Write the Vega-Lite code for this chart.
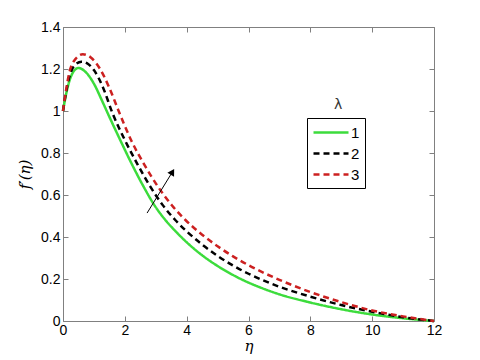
{
  "$schema": "https://vega.github.io/schema/vega-lite/v6.json",
  "width": 371,
  "height": 294,
  "autosize": {"type": "none"},
  "padding": {"left": 63, "top": 27, "right": 46, "bottom": 39},
  "background": "white",
  "config": {
    "view": {"stroke": "#808080", "strokeWidth": 1},
    "font": "Liberation Sans",
    "axis": {
      "domainColor": "#808080",
      "tickColor": "#808080",
      "labelColor": "black",
      "labelFont": "Liberation Sans",
      "labelFontSize": 14,
      "labelFlush": false,
      "grid": false,
      "titleFont": "DejaVu Serif",
      "titleFontStyle": "italic",
      "titleFontWeight": "normal",
      "titleFontSize": 15,
      "titleColor": "black"
    }
  },
  "datasets": {
    "curves": [
      {"eta": 0, "f": 1.0, "lam": "1"},
      {"eta": 0.1, "f": 1.08, "lam": "1"},
      {"eta": 0.2, "f": 1.14, "lam": "1"},
      {"eta": 0.3, "f": 1.178, "lam": "1"},
      {"eta": 0.4, "f": 1.198, "lam": "1"},
      {"eta": 0.5, "f": 1.205, "lam": "1"},
      {"eta": 0.7, "f": 1.19, "lam": "1"},
      {"eta": 1.0, "f": 1.13, "lam": "1"},
      {"eta": 1.25, "f": 1.053, "lam": "1"},
      {"eta": 1.5, "f": 0.972, "lam": "1"},
      {"eta": 1.85, "f": 0.862, "lam": "1"},
      {"eta": 2.2, "f": 0.755, "lam": "1"},
      {"eta": 2.58, "f": 0.647, "lam": "1"},
      {"eta": 2.95, "f": 0.553, "lam": "1"},
      {"eta": 3.31, "f": 0.481, "lam": "1"},
      {"eta": 3.65, "f": 0.426, "lam": "1"},
      {"eta": 4.0, "f": 0.375, "lam": "1"},
      {"eta": 4.5, "f": 0.313, "lam": "1"},
      {"eta": 5.0, "f": 0.262, "lam": "1"},
      {"eta": 5.5, "f": 0.219, "lam": "1"},
      {"eta": 6.0, "f": 0.183, "lam": "1"},
      {"eta": 6.5, "f": 0.153, "lam": "1"},
      {"eta": 7.0, "f": 0.127, "lam": "1"},
      {"eta": 8.0, "f": 0.088, "lam": "1"},
      {"eta": 9.0, "f": 0.056, "lam": "1"},
      {"eta": 10.0, "f": 0.031, "lam": "1"},
      {"eta": 11.0, "f": 0.013, "lam": "1"},
      {"eta": 12.0, "f": 0.0, "lam": "1"},
      {"eta": 0, "f": 1.0, "lam": "2"},
      {"eta": 0.1, "f": 1.09, "lam": "2"},
      {"eta": 0.2, "f": 1.16, "lam": "2"},
      {"eta": 0.35, "f": 1.213, "lam": "2"},
      {"eta": 0.6, "f": 1.235, "lam": "2"},
      {"eta": 0.8, "f": 1.225, "lam": "2"},
      {"eta": 1.0, "f": 1.195, "lam": "2"},
      {"eta": 1.3, "f": 1.11, "lam": "2"},
      {"eta": 1.6, "f": 0.99, "lam": "2"},
      {"eta": 2.0, "f": 0.862, "lam": "2"},
      {"eta": 2.41, "f": 0.746, "lam": "2"},
      {"eta": 2.815, "f": 0.642, "lam": "2"},
      {"eta": 3.22, "f": 0.553, "lam": "2"},
      {"eta": 3.63, "f": 0.481, "lam": "2"},
      {"eta": 4.0, "f": 0.427, "lam": "2"},
      {"eta": 4.5, "f": 0.364, "lam": "2"},
      {"eta": 5.0, "f": 0.31, "lam": "2"},
      {"eta": 5.5, "f": 0.264, "lam": "2"},
      {"eta": 6.0, "f": 0.225, "lam": "2"},
      {"eta": 6.5, "f": 0.192, "lam": "2"},
      {"eta": 7.0, "f": 0.163, "lam": "2"},
      {"eta": 8.0, "f": 0.116, "lam": "2"},
      {"eta": 9.0, "f": 0.076, "lam": "2"},
      {"eta": 10.0, "f": 0.044, "lam": "2"},
      {"eta": 11.0, "f": 0.018, "lam": "2"},
      {"eta": 12.0, "f": 0.0, "lam": "2"},
      {"eta": 0, "f": 1.0, "lam": "3"},
      {"eta": 0.1, "f": 1.1, "lam": "3"},
      {"eta": 0.2, "f": 1.18, "lam": "3"},
      {"eta": 0.4, "f": 1.247, "lam": "3"},
      {"eta": 0.64, "f": 1.27, "lam": "3"},
      {"eta": 0.9, "f": 1.255, "lam": "3"},
      {"eta": 1.2, "f": 1.2, "lam": "3"},
      {"eta": 1.5, "f": 1.11, "lam": "3"},
      {"eta": 1.8, "f": 1.0, "lam": "3"},
      {"eta": 2.2, "f": 0.862, "lam": "3"},
      {"eta": 2.64, "f": 0.742, "lam": "3"},
      {"eta": 3.08, "f": 0.638, "lam": "3"},
      {"eta": 3.52, "f": 0.551, "lam": "3"},
      {"eta": 3.96, "f": 0.481, "lam": "3"},
      {"eta": 4.5, "f": 0.411, "lam": "3"},
      {"eta": 5.0, "f": 0.356, "lam": "3"},
      {"eta": 5.5, "f": 0.308, "lam": "3"},
      {"eta": 6.0, "f": 0.266, "lam": "3"},
      {"eta": 6.5, "f": 0.229, "lam": "3"},
      {"eta": 7.0, "f": 0.196, "lam": "3"},
      {"eta": 8.0, "f": 0.138, "lam": "3"},
      {"eta": 9.0, "f": 0.09, "lam": "3"},
      {"eta": 10.0, "f": 0.05, "lam": "3"},
      {"eta": 11.0, "f": 0.022, "lam": "3"},
      {"eta": 12.0, "f": 0.0, "lam": "3"}
    ],
    "arrow": [{"x1": 2.72, "y1": 0.514, "x2": 3.54, "y2": 0.71}],
    "note": [{"x": 8.9, "y": 1.03, "t": "λ"}]
  },
  "layer": [
    {
      "data": {"name": "curves"},
      "mark": {"type": "line", "strokeWidth": 2.5, "interpolate": "monotone"},
      "encoding": {
        "x": {"field": "eta", "type": "quantitative", "scale": {"domain": [0, 12], "nice": false},
          "axis": {"values": [0, 2, 4, 6, 8, 10, 12], "tickSize": -5, "labelPadding": 7, "title": "η", "titlePadding": 1, "domain": false}},
        "y": {"field": "f", "type": "quantitative", "scale": {"domain": [0, 1.4], "nice": false, "zero": false},
          "axis": {"values": [0, 0.2, 0.4, 0.6, 0.8, 1, 1.2, 1.4], "tickSize": -5, "labelPadding": 8, "title": "f′(η)", "titlePadding": 8, "domain": false, "labelExpr": "datum.value == 0 ? '0' : datum.value == 1 ? '1' : format(datum.value, '.1f')"}},
        "color": {"field": "lam", "type": "nominal",
          "scale": {"domain": ["1", "2", "3"], "range": ["#3cdc3c", "#000000", "#cc2020"]},
          "legend": {"title": null, "orient": "none", "legendX": 244, "legendY": 91, "strokeColor": "#000000", "padding": 5, "fillColor": "white",
            "symbolType": "M-1,0H3.375", "symbolSize": 256, "symbolStrokeWidth": 2.5, "labelFontSize": 15, "labelFont": "Liberation Sans", "rowPadding": 3, "labelOffset": 20}},
        "strokeDash": {"field": "lam", "type": "nominal",
          "scale": {"domain": ["1", "2", "3"], "range": [[1, 0], [6, 4], [6, 4]]},
          "legend": null}
      }
    },
    {
      "data": {"name": "arrow"},
      "mark": {"type": "rule", "color": "black", "strokeWidth": 1},
      "encoding": {
        "x": {"field": "x1", "type": "quantitative", "axis": {"orient": "top", "values": [0, 2, 4, 6, 8, 10, 12], "tickSize": -5, "labels": false, "title": null, "domain": false}},
        "y": {"field": "y1", "type": "quantitative", "axis": {"orient": "right", "values": [0, 0.2, 0.4, 0.6, 0.8, 1, 1.2, 1.4], "tickSize": -5, "labels": false, "title": null, "domain": false}},
        "x2": {"field": "x2"},
        "y2": {"field": "y2"}
      }
    },
    {
      "data": {"name": "arrow"},
      "mark": {"type": "point", "shape": "triangle-up", "filled": true, "color": "black", "size": 60, "angle": 31, "opacity": 1},
      "encoding": {
        "x": {"field": "x2", "type": "quantitative", "axis": null},
        "y": {"field": "y2", "type": "quantitative", "axis": null}
      }
    },
    {
      "data": {"name": "note"},
      "mark": {"type": "text", "fontSize": 14, "font": "DejaVu Sans", "color": "#333333"},
      "encoding": {
        "x": {"field": "x", "type": "quantitative", "axis": null},
        "y": {"field": "y", "type": "quantitative", "axis": null},
        "text": {"field": "t"}
      }
    }
  ],
  "resolve": {"axis": {"x": "independent", "y": "independent"}}
}
